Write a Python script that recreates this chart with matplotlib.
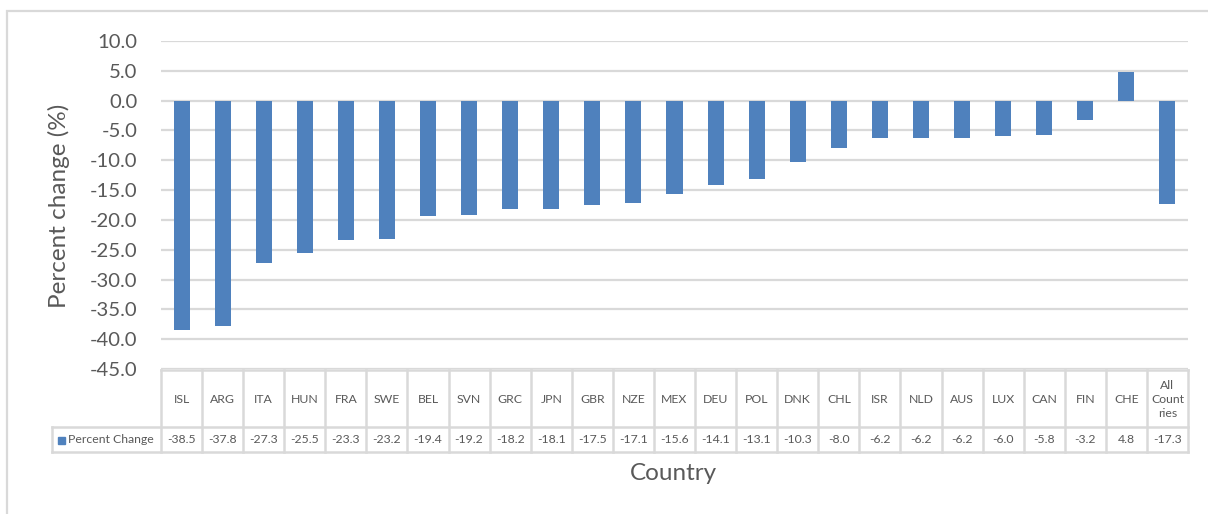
import matplotlib
matplotlib.use("Agg")
import matplotlib.pyplot as plt
from matplotlib.lines import Line2D
from matplotlib.patches import Rectangle

countries = ["ISL", "ARG", "ITA", "HUN", "FRA", "SWE", "BEL", "SVN", "GRC", "JPN",
             "GBR", "NZE", "MEX", "DEU", "POL", "DNK", "CHL", "ISR", "NLD", "AUS",
             "LUX", "CAN", "FIN", "CHE", "All\nCount\nries"]
percent_change = [-38.5, -37.8, -27.3, -25.5, -23.3, -23.2, -19.4, -19.2, -18.2, -18.1,
                  -17.5, -17.1, -15.6, -14.1, -13.1, -10.3, -8.0, -6.2, -6.2, -6.2,
                  -6.0, -5.8, -3.2, 4.8, -17.3]
series_name = "Percent Change"
y_ticks = [10, 5, 0, -5, -10, -15, -20, -25, -30, -35, -40, -45]

plt.rcParams["font.family"] = ["Lato", "DejaVu Sans"]
W, H = 1208, 514
fig = plt.figure(figsize=(W / 100, H / 100), dpi=100)
text_c = "#595959"
grid_c = "#d9d9d9"
bar_c = "#4f81bd"

def fx(px):
    return px / W

def fy(py):
    return 1 - py / H

# plot area in pixel coordinates
left, right, top, bottom = 161, 1188, 41, 369
ax = fig.add_axes([fx(left), fy(bottom), fx(right) - fx(left), fy(top) - fy(bottom)])
n = len(countries)
xs = list(range(n))
ax.bar(xs, percent_change, width=0.39, color=bar_c, zorder=3)
ax.set_xlim(-0.5, n - 0.5)
ax.set_ylim(-45, 10)
ax.set_yticks(y_ticks)
ax.set_yticklabels([f"{v:.1f}" for v in y_ticks], fontsize=14.6, color=text_c)
ax.tick_params(axis="y", length=0, pad=17)
ax.set_xticks([])
for s in ax.spines.values():
    s.set_visible(False)
for v in y_ticks:
    ax.axhline(v, color=grid_c, lw=1.6, zorder=1)

# outer chart frame
fig.add_artist(Rectangle((fx(7), fy(520)), fx(1215) - fx(7), fy(11) - fy(520),
                         transform=fig.transFigure, fill=False, ec=grid_c, lw=1.6))

# data table under the plot
col_w = (right - left) / n
hdr_top, hdr_bot, val_bot = 370, 427, 452
leg_left = 52
lines = [
    ((left, right), (hdr_top, hdr_top)),
    ((leg_left, right), (hdr_bot, hdr_bot)),
    ((leg_left, right), (val_bot, val_bot)),
    ((leg_left, leg_left), (hdr_bot, val_bot)),
]
for i in range(n + 1):
    x = left + i * col_w
    lines.append(((x, x), (hdr_top, val_bot)))
for (x0, x1), (y0, y1) in lines:
    fig.add_artist(Line2D([fx(x0), fx(x1)], [fy(y0), fy(y1)], transform=fig.transFigure,
                          color=grid_c, lw=1.8))

for i, (c, v) in enumerate(zip(countries, percent_change)):
    cx = left + (i + 0.5) * col_w
    fig.text(fx(cx), fy((hdr_top + hdr_bot) / 2 + 1), c, ha="center", va="center",
             fontsize=8.8, color=text_c, linespacing=1.35)
    fig.text(fx(cx), fy((hdr_bot + val_bot) / 2), f"{v:.1f}", ha="center", va="center",
             fontsize=8.8, color=text_c)

# legend key inside the table
fig.add_artist(Rectangle((fx(58), fy(444)), fx(7), fy(437) - fy(444),
                         transform=fig.transFigure, color=bar_c))
fig.text(fx(68), fy((hdr_bot + val_bot) / 2), series_name, ha="left", va="center",
         fontsize=8.8, color=text_c)

fig.text(fx(59), fy(206), "Percent change (%)", rotation=90, ha="center", va="center",
         fontsize=17.5, color=text_c)
fig.text(fx(673), fy(473), "Country", ha="center", va="center", fontsize=17.5, color=text_c)

fig.savefig("out.png", dpi=100)
